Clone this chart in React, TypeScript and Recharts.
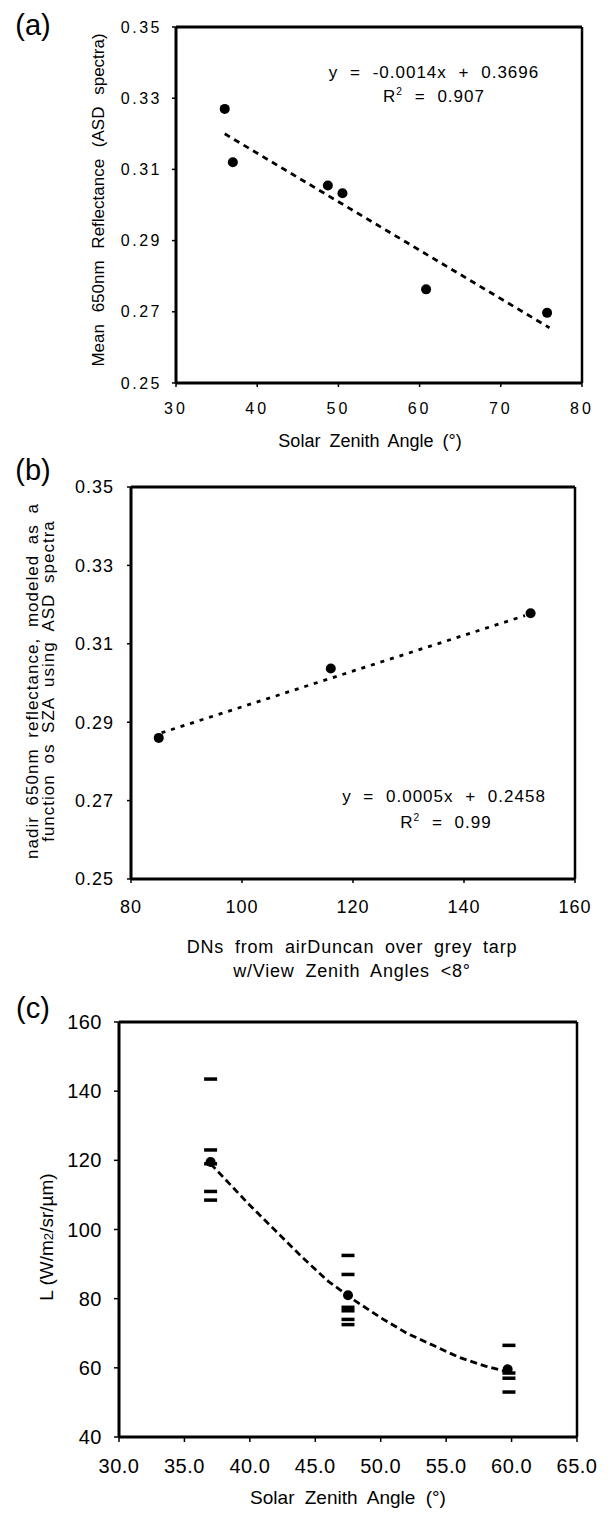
import React from 'react';
import { ScatterChart, Scatter, XAxis, YAxis, ReferenceLine } from 'recharts';

// (a) mean 650nm reflectance vs solar zenith angle
const aSza = [36, 37, 48.7, 50.5, 60.8, 75.7];
const aRefl = [0.327, 0.312, 0.3055, 0.3033, 0.2763, 0.2697];
const aTrendSza = [36, 76];
const aTrendRefl = [0.32, 0.2655];
const aXTicks = [30, 40, 50, 60, 70, 80];

// (b) modelled nadir reflectance vs airDuncan DNs
const bDn = [85, 116, 152];
const bRefl = [0.286, 0.3037, 0.3178];
const bTrendDn = [85.5, 151];
const bTrendRefl = [0.2873, 0.3172];
const bXTicks = [80, 100, 120, 140, 160];

const reflTicks = [0.25, 0.27, 0.29, 0.31, 0.33, 0.35];

// (c) radiance vs solar zenith angle
const cMeanSza = [37.0, 47.5, 59.7];
const cMeanL = [119.5, 81, 59.6];
const cObsSza = [37, 37, 37, 37, 37, 47.5, 47.5, 47.5, 47.5, 47.5, 47.5, 59.8, 59.8, 59.8, 59.8];
const cObsL = [143.5, 123, 119, 111, 108.5, 92.5, 87, 77.5, 76.5, 74, 72.5, 66.5, 58.5, 57, 53];
const cTrendSza = [37, 38, 40, 42, 44, 46, 48, 50, 52, 54, 56, 58, 60];
const cTrendL = [119, 115, 107, 99.5, 92, 85, 79.5, 74.5, 70, 66.5, 63, 60.5, 58.5];
const cXTicks = [30, 35, 40, 45, 50, 55, 60, 65];
const cYTicks = [40, 60, 80, 100, 120, 140, 160];

const zip = (xs: number[], ys: number[]) => xs.map((x, i) => ({ x, y: ys[i] }));

const Dot = (p: any) => <circle cx={p.cx} cy={p.cy} r={5} fill="#000" />;
const Bar = (p: any) => <rect x={p.cx - 6.5} y={p.cy - 1.75} width={13} height={3.5} fill="#000" />;
const Nothing = () => <g />;

const axisLine = { stroke: '#000', strokeWidth: 3 };
const tickLine = { stroke: '#000', strokeWidth: 1.5 };

function Txt({ x, y, size, rotate, style, children }: any) {
  return (
    <div
      style={{
        position: 'absolute',
        left: x,
        top: y,
        fontSize: size,
        lineHeight: 1,
        whiteSpace: 'nowrap',
        textAlign: 'center',
        transform: `translate(-50%, -50%)${rotate ? ' rotate(-90deg)' : ''}`,
        ...style,
      }}
    >
      {children}
    </div>
  );
}

const eqStyle = { letterSpacing: 1, wordSpacing: 6 };

export default function App() {
  return (
    <div
      style={{
        position: 'absolute',
        left: 0,
        top: 0,
        width: 613,
        height: 1514,
        background: '#fff',
        overflow: 'hidden',
        fontFamily: '"Liberation Sans", Arial, sans-serif',
        color: '#000',
      }}
    >
      {/* panel a */}
      <div style={{ position: 'absolute', left: 0, top: 0 }}>
        <ScatterChart width={613} height={450} margin={{ top: 27, right: 31, bottom: 17, left: 116 }}>
          <XAxis type="number" dataKey="x" domain={[30, 80]} ticks={aXTicks} interval={0} height={50}
            tickSize={4} tickMargin={16} axisLine={axisLine} tickLine={tickLine}
            tick={{ fill: '#000', fontSize: 16, letterSpacing: 3 }} />
          <YAxis type="number" dataKey="y" domain={[0.25, 0.35]} ticks={reflTicks} interval={0} width={60}
            tickSize={4} tickMargin={10} axisLine={axisLine} tickLine={tickLine}
            tickFormatter={(v: number) => v.toFixed(2)}
            tick={{ fill: '#000', fontSize: 16, letterSpacing: 2.5 }} />
          <ReferenceLine y={0.35} stroke="#000" strokeWidth={3} />
          <ReferenceLine x={80} stroke="#000" strokeWidth={2.5} />
          <Scatter data={zip(aTrendSza, aTrendRefl)} shape={Nothing} isAnimationActive={false}
            line={{ stroke: '#000', strokeWidth: 2.8, strokeDasharray: '6 5' }} />
          <Scatter data={zip(aSza, aRefl)} shape={Dot} isAnimationActive={false} />
        </ScatterChart>
      </div>

      {/* panel b */}
      <div style={{ position: 'absolute', left: 0, top: 450 }}>
        <ScatterChart width={613} height={550} margin={{ top: 37, right: 38, bottom: 71, left: 71 }}>
          <XAxis type="number" dataKey="x" domain={[80, 160]} ticks={bXTicks} interval={0} height={50}
            tickSize={4} tickMargin={17} axisLine={axisLine} tickLine={tickLine}
            tick={{ fill: '#000', fontSize: 18, letterSpacing: 1 }} />
          <YAxis type="number" dataKey="y" domain={[0.25, 0.35]} ticks={reflTicks} interval={0} width={60}
            tickSize={4} tickMargin={13} axisLine={axisLine} tickLine={tickLine}
            tickFormatter={(v: number) => v.toFixed(2)}
            tick={{ fill: '#000', fontSize: 18, letterSpacing: 1 }} />
          <ReferenceLine y={0.35} stroke="#000" strokeWidth={3} />
          <ReferenceLine x={160} stroke="#000" strokeWidth={2.5} />
          <Scatter data={zip(bTrendDn, bTrendRefl)} shape={Nothing} isAnimationActive={false}
            line={{ stroke: '#000', strokeWidth: 2.8, strokeDasharray: '4 6' }} />
          <Scatter data={zip(bDn, bRefl)} shape={Dot} isAnimationActive={false} />
        </ScatterChart>
      </div>

      {/* panel c */}
      <div style={{ position: 'absolute', left: 0, top: 1000 }}>
        <ScatterChart width={613} height={514} margin={{ top: 22, right: 36, bottom: 27, left: 59 }}>
          <XAxis type="number" dataKey="x" domain={[30, 65]} ticks={cXTicks} interval={0} height={50}
            tickSize={5} tickMargin={17} axisLine={axisLine} tickLine={tickLine}
            tickFormatter={(v: number) => v.toFixed(1)}
            tick={{ fill: '#000', fontSize: 20, letterSpacing: 0.5 }} />
          <YAxis type="number" dataKey="y" domain={[40, 160]} ticks={cYTicks} interval={0} width={60}
            tickSize={5} tickMargin={12} axisLine={axisLine} tickLine={tickLine}
            tick={{ fill: '#000', fontSize: 20, letterSpacing: 0.5 }} />
          <ReferenceLine y={160} stroke="#000" strokeWidth={3} />
          <ReferenceLine x={65} stroke="#000" strokeWidth={2.5} />
          <Scatter data={zip(cTrendSza, cTrendL)} shape={Nothing} isAnimationActive={false}
            line={{ stroke: '#000', strokeWidth: 2.8, strokeDasharray: '7 4' }} />
          <Scatter data={zip(cObsSza, cObsL)} shape={Bar} isAnimationActive={false} />
          <Scatter data={zip(cMeanSza, cMeanL)} shape={Dot} isAnimationActive={false} />
        </ScatterChart>
      </div>

      {/* panel letters */}
      <Txt x={33} y={25} size={29}>(a)</Txt>
      <Txt x={33} y={470} size={29}>(b)</Txt>
      <Txt x={33} y={1008} size={29}>(c)</Txt>

      {/* (a) texts */}
      <Txt x={434} y={72} size={17} style={eqStyle}>y = -0.0014x + 0.3696</Txt>
      <Txt x={434} y={96} size={17} style={eqStyle}>
        R<sup style={{ fontSize: '0.6em', lineHeight: 0 }}>2</sup> = 0.907
      </Txt>
      <Txt x={98} y={200} size={17} rotate style={{ wordSpacing: 7 }}>
        Mean 650nm Reflectance (ASD spectra)
      </Txt>
      <Txt x={370} y={441} size={18} style={{ wordSpacing: 4 }}>Solar Zenith Angle (°)</Txt>

      {/* (b) texts */}
      <Txt x={444} y={796} size={17} style={eqStyle}>y = 0.0005x + 0.2458</Txt>
      <Txt x={446} y={822} size={17} style={eqStyle}>
        R<sup style={{ fontSize: '0.6em', lineHeight: 0 }}>2</sup> = 0.99
      </Txt>
      <Txt x={41} y={681} size={17} rotate style={{ lineHeight: '16px', letterSpacing: 1, wordSpacing: 5 }}>
        nadir 650nm reflectance, modeled as a<br />function os SZA using ASD spectra
      </Txt>
      <Txt x={352} y={959} size={18} style={{ lineHeight: '24px', letterSpacing: 0.8, wordSpacing: 5 }}>
        DNs from airDuncan over grey tarp<br />w/View Zenith Angles &lt;8°
      </Txt>

      {/* (c) texts */}
      <Txt x={46} y={1237} size={19} rotate>
        L (W/m<span style={{ fontSize: '0.7em' }}>2</span>/sr/µm)
      </Txt>
      <Txt x={348} y={1497} size={19} style={{ wordSpacing: 5 }}>Solar Zenith Angle (°)</Txt>
    </div>
  );
}
